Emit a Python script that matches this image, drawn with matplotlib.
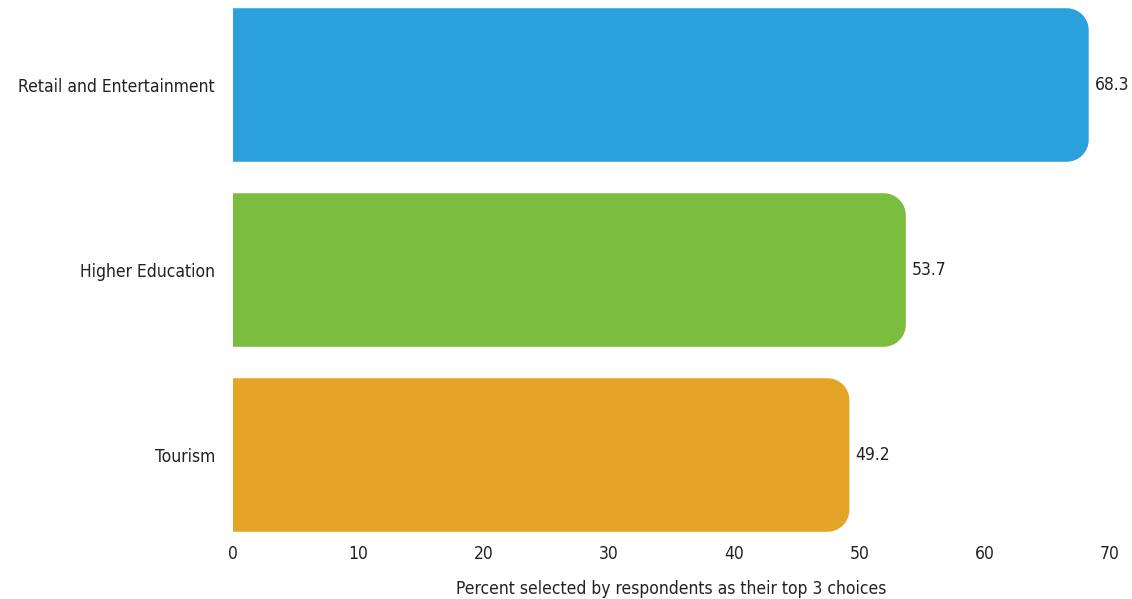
import numpy as np
import matplotlib.pyplot as plt
from matplotlib.path import Path
from matplotlib.patches import PathPatch

# Daten
categories = ["Retail and Entertainment", "Higher Education", "Tourism"]
values = [68.3, 53.7, 49.2]
colors = ["#2AA0DC", "#7BBD3F", "#E4A526"]
x_ticks = [0, 10, 20, 30, 40, 50, 60, 70]
x_label = "Percent selected by respondents as their top 3 choices"

plt.rcParams['font.family'] = ['DejaVu Sans']
plt.rcParams['font.stretch'] = 'condensed'


def rounded_right_bar(x0, x1, y0, y1, rx, ry):
    # Rechteck mit abgerundeten Ecken nur auf der rechten Seite
    k = 0.5523
    verts = [
        (x0, y0),
        (x1 - rx, y0),
        (x1 - rx + k * rx, y0), (x1, y0 + ry - k * ry), (x1, y0 + ry),
        (x1, y1 - ry),
        (x1, y1 - ry + k * ry), (x1 - rx + k * rx, y1), (x1 - rx, y1),
        (x0, y1),
        (x0, y0),
    ]
    codes = [Path.MOVETO, Path.LINETO,
             Path.CURVE4, Path.CURVE4, Path.CURVE4,
             Path.LINETO,
             Path.CURVE4, Path.CURVE4, Path.CURVE4,
             Path.LINETO, Path.CLOSEPOLY]
    return Path(verts, codes)


fig = plt.figure(figsize=(11.32, 5.99), dpi=100)
ax = fig.add_axes([233 / 1132, 54 / 599, 877 / 1132, 545 / 599])

y_pos = np.arange(len(categories))
bar_h = 0.83
ax.set_xlim(0, 70)
ax.set_ylim(2 + 90 / 185, -85 / 185)

# Balkenradius in Pixeln -> Datenkoordinaten
rx = 22 / (877 / 70)
ry = 22 / 185

fs = 12.5
tc = '#222222'
for y, v, c in zip(y_pos, values, colors):
    p = rounded_right_bar(0, v, y - bar_h / 2, y + bar_h / 2, rx, ry)
    ax.add_patch(PathPatch(p, facecolor=c, edgecolor='none'))
    ax.text(v + 0.5, y, f"{v:.1f}", va='center', ha='left', fontsize=fs, color=tc)

ax.set_yticks(y_pos)
ax.set_yticklabels(categories, fontsize=fs, color=tc)
ax.set_xticks(x_ticks)
ax.set_xticklabels([str(t) for t in x_ticks], fontsize=fs, color=tc)
ax.tick_params(axis='both', length=0)
ax.tick_params(axis='y', pad=13)
ax.tick_params(axis='x', pad=0)
ax.set_xlabel(x_label, fontsize=fs, color=tc, labelpad=12)
for s in ax.spines.values():
    s.set_visible(False)

plt.savefig("out.png", dpi=100)
